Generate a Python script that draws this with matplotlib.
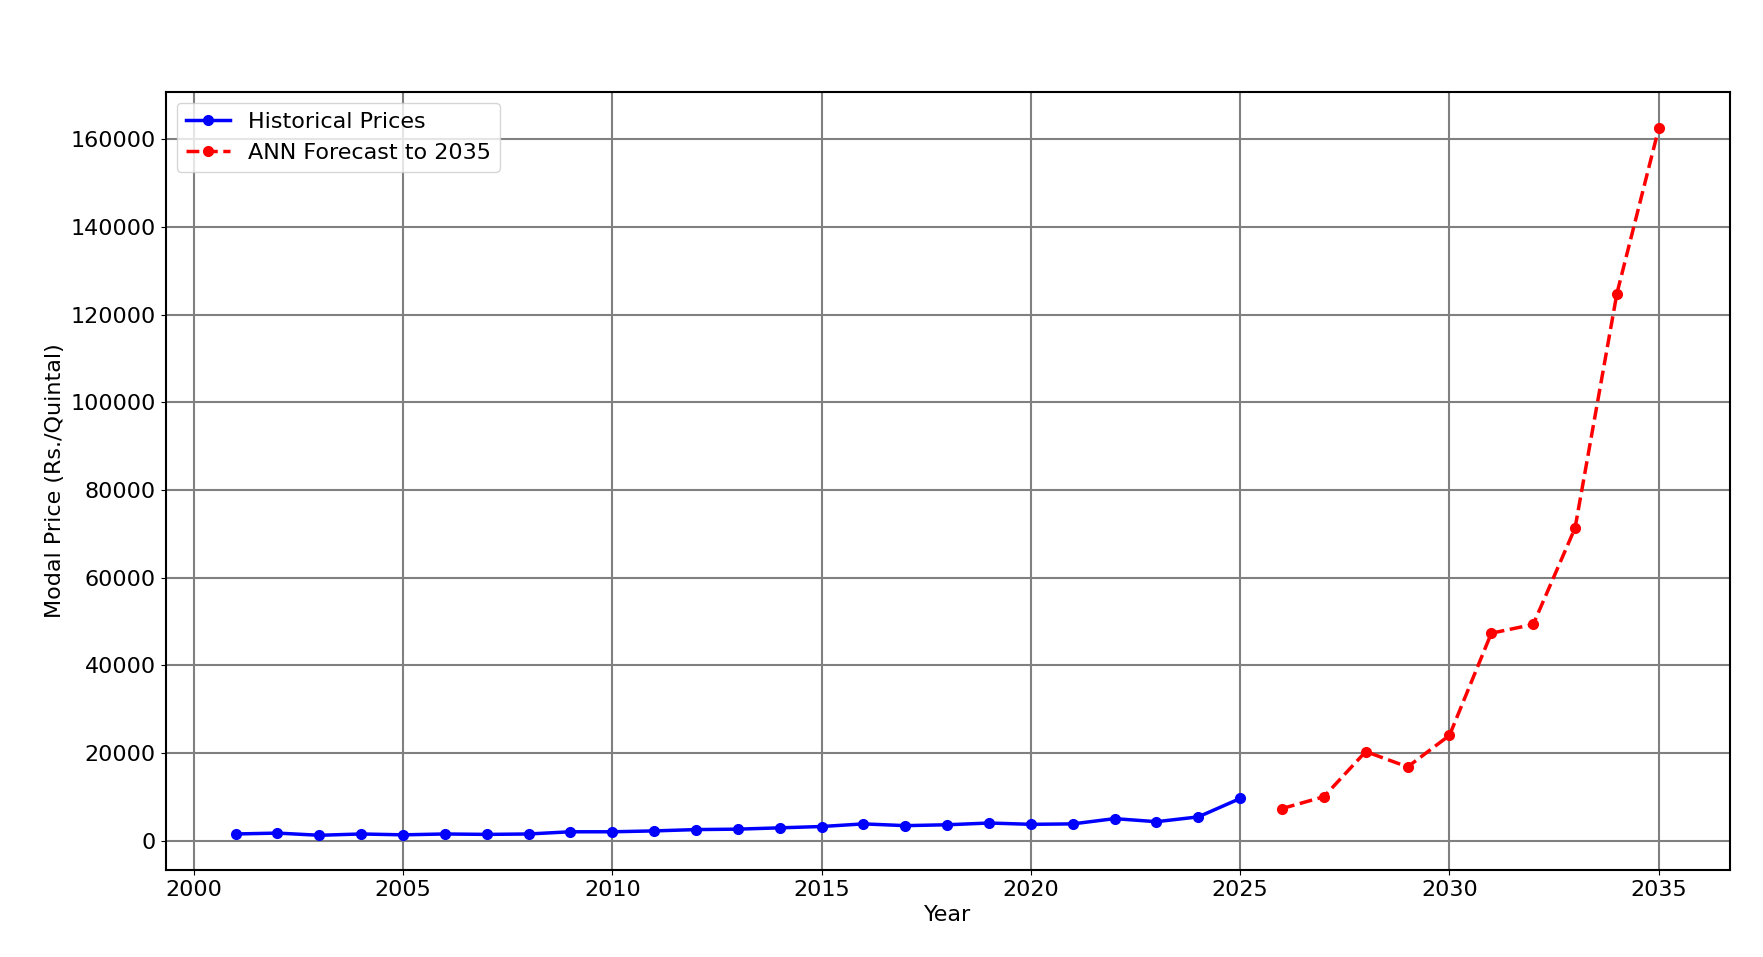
import matplotlib
matplotlib.use("Agg")
import matplotlib.pyplot as plt

hist_years = list(range(2001, 2026))
hist_prices = [1500,1700,1200,1500,1300,1500,1400,1500,2000,2000,2200,2500,2600,2900,3200,
               3800,3400,3600,4000,3700,3800,5000,4300,5400,9600]
fc_years = list(range(2026, 2036))
fc_prices = [7300,10000,20300,16800,24000,47300,49300,71300,124800,162500]

fig = plt.figure(figsize=(17.63, 9.57), dpi=100)
ax = fig.add_axes([0.094, 0.091, 0.887, 0.813])
ax.plot(hist_years, hist_prices, 'o-', color='blue', lw=2.5, ms=7, label='Historical Prices')
ax.plot(fc_years, fc_prices, 'o--', color='red', lw=2.5, ms=7, label='ANN Forecast to 2035')
ax.set_xlim(1999.33, 2036.69)
ax.set_ylim(-6700, 170800)
ax.set_xticks(range(2000, 2036, 5))
ax.set_yticks(range(0, 160001, 20000))
ax.grid(True, color='gray', lw=1.5)
ax.tick_params(labelsize=16)
for s in ax.spines.values():
    s.set_linewidth(1.5)
ax.set_xlabel('Year', fontsize=16)
ax.set_ylabel('Modal Price (Rs./Quintal)', fontsize=16)
ax.legend(loc='upper left', fontsize=16)
fig.savefig('out.png')
